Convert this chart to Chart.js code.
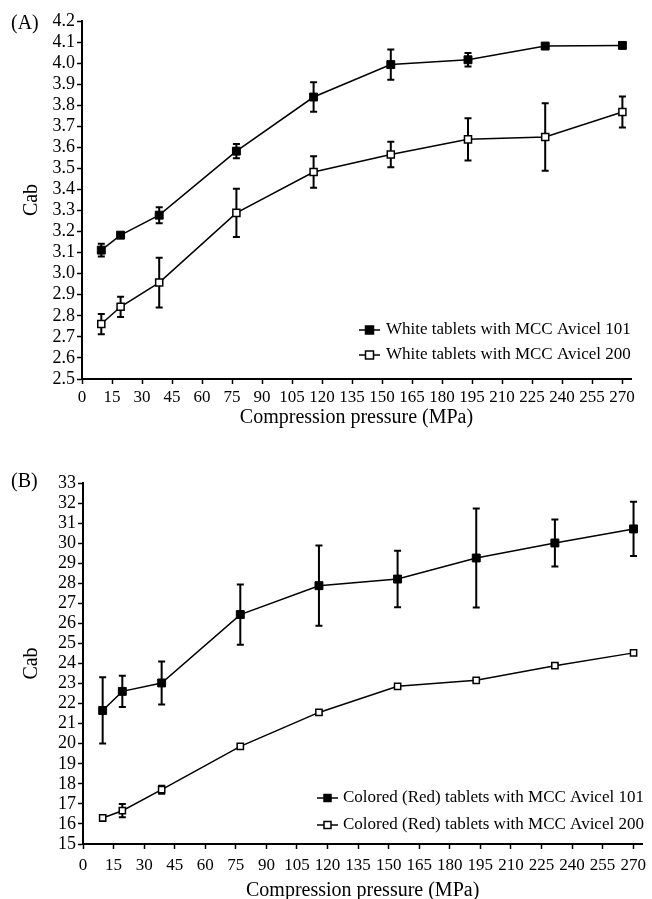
<!DOCTYPE html>
<html>
<head>
<meta charset="utf-8">
<title>Cab vs compression pressure</title>
<script src="https://cdn.jsdelivr.net/npm/chart.js"></script>
<style>
    html, body { margin: 0; padding: 0; background: #fff; overflow: hidden; }
    .wrap {
        position: relative;
        width: 652px;
        height: 899px;
        font-family: "Liberation Serif", "Times New Roman", serif;
    }
    .wrap canvas { position: absolute; left: 0; }
    #chartA { top: 0; }
    #chartB { top: 440px; }
    .panel-label { position: absolute; left: 11px; font-size: 20px; line-height: 1; color: #000; }
</style>
</head>
<body>
<div class="wrap">
    <canvas id="chartA" width="652" height="440"></canvas>
    <canvas id="chartB" width="652" height="459"></canvas>
    <div class="panel-label" style="top:12px">(A)</div>
    <div class="panel-label" style="top:470px">(B)</div>
</div>

<script>
// compression pressure (MPa), same for every series
const pressure = [9.65, 19.3, 38.6, 77.2, 115.8, 154.4, 193, 231.6, 270.2];

// (A) white tablets
const whiteAvicel101 = [3.112, 3.183, 3.278, 3.582, 3.839, 3.993, 4.016, 4.081, 4.084];
const whiteAvicel101Err = [0.03, 0.012, 0.038, 0.034, 0.07, 0.072, 0.032, 0.012, 0.008];
const whiteAvicel200 = [2.761, 2.843, 2.958, 3.289, 3.483, 3.566, 3.638, 3.649, 3.768];
const whiteAvicel200Err = [0.048, 0.048, 0.118, 0.115, 0.075, 0.061, 0.10, 0.16, 0.074];

// (B) colored (red) tablets
const redAvicel101 = [21.66, 22.61, 23.03, 26.44, 27.88, 28.21, 29.26, 30.01, 30.71];
const redAvicel101Err = [1.65, 0.78, 1.07, 1.5, 2.0, 1.41, 2.47, 1.17, 1.35];
const redAvicel200 = [16.30, 16.66, 17.71, 19.87, 21.56, 22.86, 23.16, 23.89, 24.53];
const redAvicel200Err = [0.15, 0.33, 0.2, 0.1, 0.1, 0.1, 0.1, 0.1, 0.1];

// axis ranges / tick steps
const xRange = [0, 274.5];
const xStep = 15;
const yRangeA = [2.5, 4.2];
const yStepA = 0.1;
const yRangeB = [15, 33];
const yStepB = 1;

const serif = '"Liberation Serif", "Times New Roman", serif';

// vertical error bars, drawn under the lines and markers
const errorBars = {
    id: 'errorBars',
    beforeDatasetsDraw(chart) {
        const { ctx, scales: { x, y } } = chart;
        ctx.save();
        ctx.strokeStyle = '#000';
        ctx.lineWidth = 2;
        chart.data.datasets.forEach(ds => {
            if (!ds.errors) return;
            ds.data.forEach((p, i) => {
                const e = ds.errors[i];
                const px = x.getPixelForValue(p.x);
                const top = y.getPixelForValue(p.y + e);
                const bot = y.getPixelForValue(p.y - e);
                ctx.beginPath();
                ctx.moveTo(px, top); ctx.lineTo(px, bot);
                ctx.moveTo(px - 3.5, top); ctx.lineTo(px + 3.5, top);
                ctx.moveTo(px - 3.5, bot); ctx.lineTo(px + 3.5, bot);
                ctx.stroke();
            });
        });
        ctx.restore();
    }
};

// small legend in the lower right corner of the plot
const cornerLegend = {
    id: 'cornerLegend',
    afterDraw(chart, args, opts) {
        const ctx = chart.ctx;
        ctx.save();
        ctx.font = '17px ' + serif;
        ctx.textBaseline = 'middle';
        chart.data.datasets.forEach((ds, i) => {
            const y = opts.y + i * opts.rowGap;
            const mx = opts.x + opts.lineLen / 2;
            const s = opts.marker;
            ctx.strokeStyle = '#000';
            ctx.lineWidth = 1.5;
            ctx.beginPath();
            ctx.moveTo(opts.x, y);
            ctx.lineTo(opts.x + opts.lineLen, y);
            ctx.stroke();
            ctx.fillStyle = ds.pointBackgroundColor;
            ctx.fillRect(mx - s / 2, y - s / 2, s, s);
            ctx.strokeRect(mx - s / 2, y - s / 2, s, s);
            ctx.fillStyle = '#000';
            ctx.fillText(ds.label, opts.x + opts.lineLen + opts.textGap, y);
        });
        ctx.restore();
    }
};

function series(label, ys, errs, filled, radius) {
    return {
        label: label,
        data: pressure.map((p, i) => ({ x: p, y: ys[i] })),
        errors: errs,
        showLine: true,
        borderColor: '#000',
        borderWidth: 1.5,
        pointStyle: 'rect',
        pointRadius: radius,
        pointBackgroundColor: filled ? '#000' : '#fff',
        pointBorderColor: '#000',
        pointBorderWidth: filled ? 1 : 1.5,
        tension: 0
    };
}

function makeChart(id, datasets, o) {
    return new Chart(document.getElementById(id), {
        type: 'scatter',
        data: { datasets: datasets },
        plugins: [errorBars, cornerLegend],
        options: {
            responsive: false,
            animation: false,
            devicePixelRatio: 1,
            layout: { autoPadding: false, padding: o.padding },
            plugins: {
                legend: { display: false },
                tooltip: { enabled: false },
                cornerLegend: o.legend
            },
            scales: {
                x: {
                    type: 'linear',
                    min: xRange[0],
                    max: xRange[1],
                    ticks: {
                        stepSize: xStep,
                        autoSkip: false,
                        maxRotation: 0,
                        includeBounds: false,
                        color: '#000',
                        padding: o.xTickPad,
                        font: { family: serif, size: 17 }
                    },
                    grid: { drawOnChartArea: false, tickLength: 5, color: '#000', tickWidth: 1.5 },
                    border: { color: '#000', width: 2 },
                    title: {
                        display: true,
                        text: 'Compression pressure (MPa)',
                        color: '#000',
                        font: { family: serif, size: 20, lineHeight: o.xTitleLH },
                        padding: { top: 0, bottom: o.xTitlePad }
                    },
                    afterFit: s => { s.height = o.xHeight; }
                },
                y: {
                    min: o.yRange[0],
                    max: o.yRange[1],
                    ticks: {
                        stepSize: o.yStep,
                        autoSkip: false,
                        color: '#000',
                        padding: 2,
                        font: { family: serif, size: 18 },
                        callback: v => o.yStep < 1 ? v.toFixed(1) : v
                    },
                    grid: { drawOnChartArea: false, tickLength: 5, color: '#000', tickWidth: 1.5 },
                    border: { color: '#000', width: 2 },
                    title: {
                        display: true,
                        text: 'Cab',
                        color: '#000',
                        font: { family: serif, size: 20 },
                        padding: { top: 20, bottom: 0 }
                    },
                    afterFit: s => { s.width = o.yWidth; }
                }
            }
        }
    });
}

makeChart('chartA', [
    series('White tablets with MCC Avicel 101', whiteAvicel101, whiteAvicel101Err, true, 5.6),
    series('White tablets with MCC Avicel 200', whiteAvicel200, whiteAvicel200Err, false, 5)
], {
    padding: { left: 0, top: 21, right: 21, bottom: 0 },
    yRange: yRangeA, yStep: yStepA,
    yWidth: 82, xHeight: 61,
    xTickPad: 3, xTitleLH: 1.2, xTitlePad: 10,
    legend: { x: 359, y: 330, rowGap: 25, lineLen: 21, textGap: 6, marker: 8 }
});

makeChart('chartB', [
    series('Colored (Red) tablets with MCC Avicel 101', redAvicel101, redAvicel101Err, true, 5.6),
    series('Colored (Red) tablets with MCC Avicel 200', redAvicel200, redAvicel200Err, false, 4.4)
], {
    padding: { left: 0, top: 43, right: 7, bottom: 0 },
    yRange: yRangeB, yStep: yStepB,
    yWidth: 83, xHeight: 55,
    xTickPad: 6, xTitleLH: 0.8, xTitlePad: 0,
    legend: { x: 317, y: 358, rowGap: 27, lineLen: 21, textGap: 5, marker: 7 }
});
</script>
</body>
</html>
